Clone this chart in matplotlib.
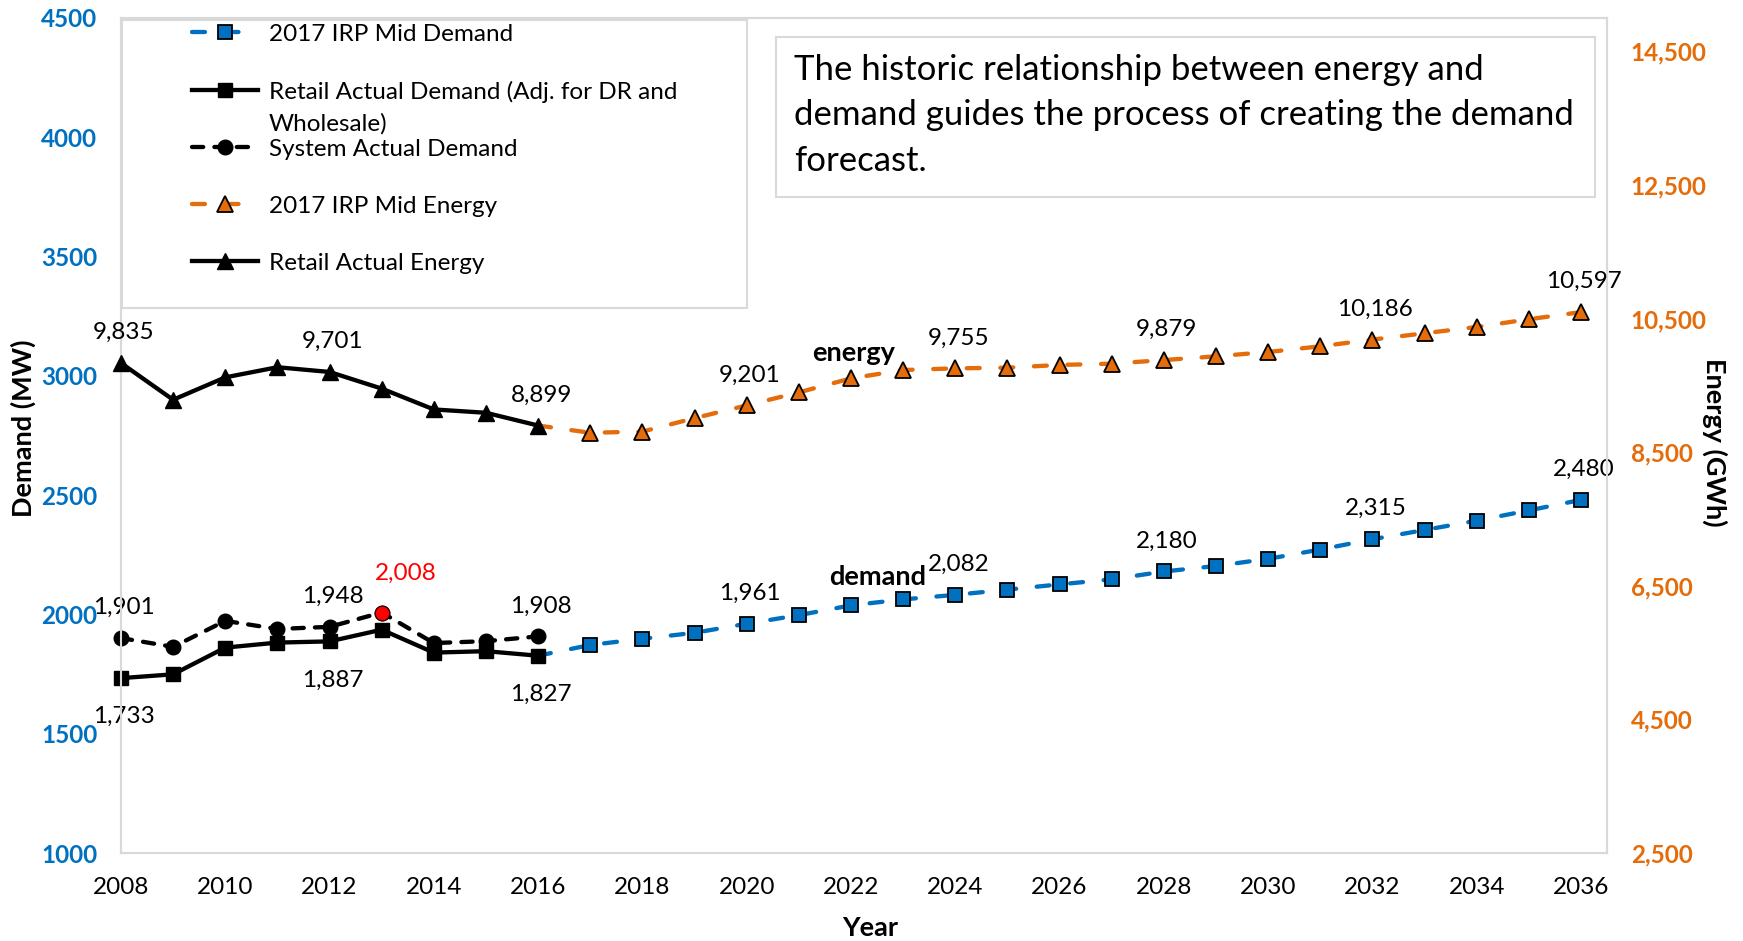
import matplotlib
matplotlib.use("Agg")
import matplotlib.pyplot as plt
from matplotlib.patches import Rectangle

plt.rcParams['font.family'] = ['Lato', 'DejaVu Sans']

# actuals 2008-2016
years_actual = list(range(2008, 2017))
retail_demand = [1733, 1749, 1861, 1882, 1887, 1936, 1840, 1846, 1827]
system_demand = [1901, 1864, 1973, 1939, 1948, 2008, 1880, 1888, 1908]
retail_energy = [9835, 9285, 9620, 9772, 9701, 9452, 9140, 9090, 8899]

# 2017 IRP mid case, starting from the last actual year
years_irp = list(range(2016, 2037))
irp_demand = [1827, 1872, 1898, 1923, 1961, 1997, 2038, 2063, 2082, 2104, 2126,
              2147, 2180, 2203, 2233, 2272, 2315, 2354, 2393, 2436, 2480]
irp_energy = [8899, 8791, 8808, 9010, 9201, 9395, 9605, 9730, 9755, 9765, 9806,
              9825, 9879, 9935, 10000, 10085, 10186, 10280, 10375, 10490, 10597]

# which years get a data label
retail_labels = [2008, 2012, 2016]
system_labels = [2008, 2012, 2016]
irp_labels = [2020, 2024, 2028, 2032, 2036]

left_ticks = [1000, 1500, 2000, 2500, 3000, 3500, 4000, 4500]
right_ticks = [2500, 4500, 6500, 8500, 10500, 12500, 14500]
x_ticks = list(range(2008, 2037, 2))

BLUE = '#0070C0'
ORANGE = '#E46C0A'
GRID = '#d9d9d9'
FS = 17.5      # ticks, legend, data labels
FS_AX = 19.5   # axis titles and in-plot captions

fig = plt.figure(figsize=(17.43, 9.41), dpi=100)
ax = fig.add_axes([0.0694, 0.0935, 0.8526, 0.8874])
ax2 = ax.twinx()

lw = 3.1
# demand on the left axis
l_irp_d, = ax.plot(years_irp, irp_demand, color=BLUE, lw=lw, dashes=(3, 4.8),
                   dash_capstyle='round', marker='s', ms=9.8, mfc=BLUE, mec='black',
                   mew=1.3, markevery=slice(1, None), clip_on=False, zorder=3,
                   label='2017 IRP Mid Demand')
l_ret_d, = ax.plot(years_actual, retail_demand, color='black', lw=lw, marker='s',
                   ms=10, mfc='black', mec='black', clip_on=False, zorder=4,
                   label='Retail Actual Demand (Adj. for DR and')
l_sys_d, = ax.plot(years_actual, system_demand, color='black', lw=lw, dashes=(2.6, 2.6),
                   dash_capstyle='round', marker='o', ms=10.5, mfc='black', mec='black',
                   clip_on=False, zorder=5, label='System Actual Demand')
peak = system_demand.index(max(system_demand))
ax.plot(years_actual[peak], system_demand[peak], 'o', ms=10.5, mfc='#FF0000', mec='#300000',
        mew=0.8, clip_on=False, zorder=6)

# energy on the right axis
l_irp_e, = ax2.plot(years_irp, irp_energy, color=ORANGE, lw=lw, dashes=(3, 4.8),
                    dash_capstyle='round', marker='^', ms=11, mfc=ORANGE, mec='black',
                    mew=1.3, markevery=slice(1, None), clip_on=False, zorder=3,
                    label='2017 IRP Mid Energy')
l_ret_e, = ax2.plot(years_actual, retail_energy, color='black', lw=lw, marker='^', ms=11,
                    mfc='black', mec='black', clip_on=False, zorder=4,
                    label='Retail Actual Energy')


def label(axis, x, y, dy, color='black', dx=3):
    axis.annotate(f"{y:,}", (x, y), xytext=(dx, dy), textcoords='offset pixels',
                  ha='center', va='baseline', fontsize=FS, color=color, zorder=7)


for yr in retail_labels:
    i = years_actual.index(yr)
    label(ax, yr, retail_demand[i], -45)
    label(ax2, yr, retail_energy[i], 24)
for yr in system_labels:
    i = years_actual.index(yr)
    label(ax, yr, system_demand[i], 24)
label(ax, years_actual[peak], system_demand[peak], 33, color='#FF0000', dx=24)
for yr in irp_labels:
    i = years_irp.index(yr)
    label(ax, yr, irp_demand[i], 24)
    label(ax2, yr, irp_energy[i], 24)

ax.text(2022.05, 3095, 'energy', fontsize=FS_AX, fontweight='bold', ha='center', va='center')
ax.text(2022.52, 2157, 'demand', fontsize=FS_AX, fontweight='bold', ha='center', va='center')

# axes, ticks
ax.set_xlim(2008, 2036.5)
ax.set_ylim(1000, 4500)
ax2.set_ylim(2500, 15000)
ax.set_xticks(x_ticks, [str(t) for t in x_ticks], fontsize=FS)
ax.set_yticks(left_ticks, [str(t) for t in left_ticks], fontsize=FS, fontweight='bold',
              color=BLUE)
ax2.set_yticks(right_ticks, [f"{t:,}" for t in right_ticks], fontsize=FS,
               fontweight='bold', color=ORANGE)
ax.tick_params(axis='both', length=0, pad=17)
ax2.tick_params(axis='y', length=0, pad=17)
for a in (ax, ax2):
    for sp in a.spines.values():
        sp.set_color(GRID)
        sp.set_linewidth(1.5)

ax.set_ylabel('Demand (MW)', fontsize=FS_AX, fontweight='bold', ha='center', va='center')
ax.yaxis.set_label_coords(-0.0655, 0.509)
ax2.set_ylabel('Energy (GWh)', fontsize=FS_AX, fontweight='bold', rotation=270,
               ha='center', va='center')
ax2.yaxis.set_label_coords(1.0727, 0.4916)
ax.set_xlabel('Year', fontsize=FS_AX, fontweight='bold', ha='center', va='center')
ax.xaxis.set_label_coords(0.504, -0.0898)

# legend box
ax2.add_patch(Rectangle((0.001, 0.653), 0.42, 0.345, transform=ax2.transAxes,
                        facecolor='white', edgecolor=GRID, lw=1.5, zorder=8))
leg = ax2.legend(handles=[l_irp_d, l_ret_d, l_sys_d, l_irp_e, l_ret_e],
                 loc='upper left', bbox_to_anchor=(0.0478, 0.993), frameon=False,
                 fontsize=FS, handlelength=2.7, handletextpad=0.45, borderpad=0,
                 borderaxespad=0, labelspacing=1.48, numpoints=1)
leg.set_zorder(9)

# note box
fig.patches.append(Rectangle((0.4452, 0.7906), 0.4699, 0.170, transform=fig.transFigure,
                             facecolor='white', edgecolor=GRID, lw=1.5, zorder=10))
# anchored at the baseline of the last line
fig.text(794 / 1743, 1 - 171 / 941,
         'The historic relationship between energy and\n'
         'demand guides the process of creating the demand\n'
         'forecast.', fontsize=25, ha='left', va='baseline', linespacing=1.52, zorder=11)

# second line of the wrapped legend entry
fig.canvas.draw()
bb = leg.get_texts()[1].get_window_extent()
W, H = fig.canvas.get_width_height()
fig.text(bb.x0 / W, (bb.y0 - 32) / H, 'Wholesale)', fontsize=FS, ha='left', va='bottom',
         zorder=12)

fig.savefig('out.png', dpi=100)
